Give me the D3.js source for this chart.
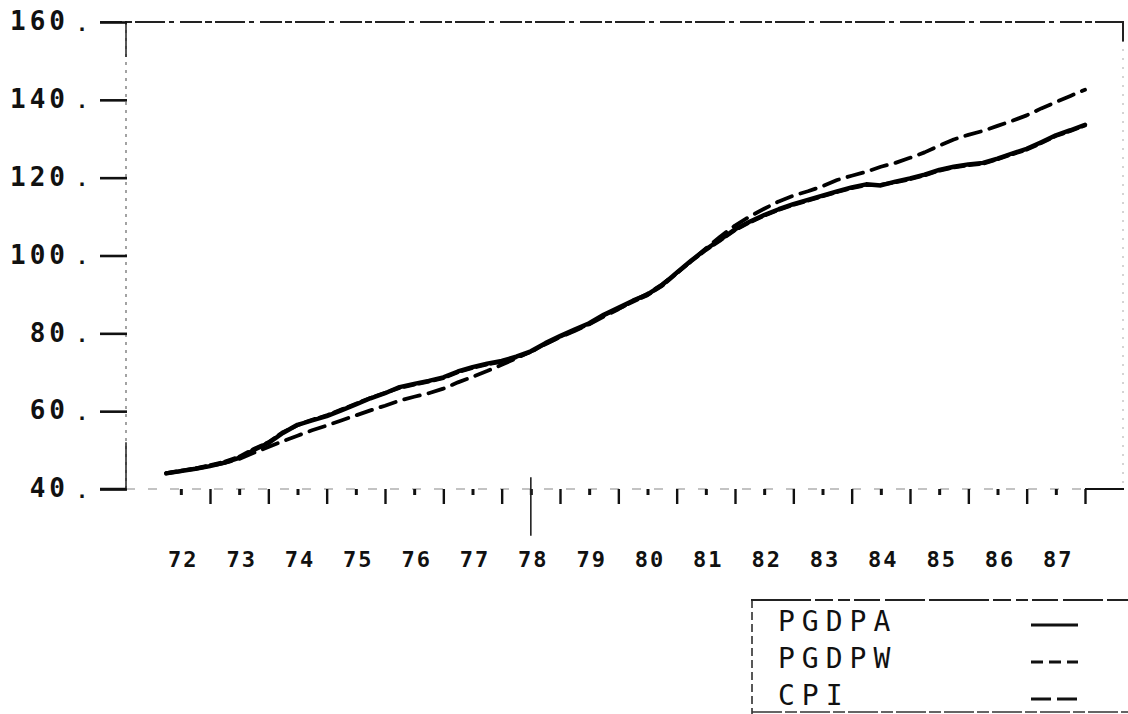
<!DOCTYPE html>
<html>
<head>
<meta charset="utf-8">
<script src="https://cdn.jsdelivr.net/npm/d3@7"></script>
<style>
  body { margin: 0; background: #fff; }
  svg { display: block; }
  .tk text { font-family: "DejaVu Sans Mono", monospace; fill: #111; }
</style>
</head>
<body>
<svg id="chart" width="1128" height="714"></svg>
<script>
// quarterly series, 1972Q1 .. 1987Q4
const firstYear = 1972;
const pgdpa = [44.0,44.6,45.2,45.9, 46.8,48.0,50.0,51.8, 54.4,56.5,57.6,58.7, 60.2,61.7,63.3,64.6,
  66.2,67.0,67.8,68.7, 70.2,71.3,72.2,72.9, 74.0,75.4,77.5,79.3, 81.0,82.6,84.8,86.6,
  88.4,90.0,92.4,95.6, 98.7,101.6,104.1,106.7, 108.7,110.4,111.9,113.2, 114.3,115.4,116.5,117.5,
  118.3,118.0,119.0,119.8, 120.8,122.0,122.8,123.4, 123.8,124.9,126.2,127.4, 129.1,130.9,132.2,133.6];
const pgdpw = [44.1,44.7,45.3,46.1, 47.0,48.3,50.3,52.0, 54.6,56.4,57.8,58.9, 60.4,61.9,63.4,64.7,
  66.0,66.8,67.6,68.5, 70.0,71.1,72.0,72.7, 73.8,75.2,77.3,79.1, 80.8,82.4,84.6,86.3,
  88.1,89.8,92.2,95.4, 98.5,101.4,103.9,106.5, 108.5,110.2,111.7,113.0, 114.1,115.2,116.3,117.3,
  118.1,118.2,118.8,119.6, 120.6,121.8,122.6,123.2, 123.6,124.7,126.0,127.2, 128.9,130.7,132.0,133.4];
const cpi = [44.0,44.6,45.2,45.9, 46.7,47.7,49.3,50.8, 52.3,53.7,55.1,56.3, 57.6,58.9,60.2,61.4,
  62.7,63.7,64.6,65.8, 67.4,68.8,70.3,71.9, 73.6,75.3,77.2,79.0, 80.6,82.3,84.3,86.2,
  88.3,90.2,92.6,95.5, 98.6,101.8,104.9,107.7, 110.0,112.0,113.9,115.4, 116.5,117.8,119.4,120.5,
  121.5,122.8,123.8,125.1, 126.5,128.2,129.8,131.0, 132.0,133.3,134.6,136.0, 137.8,139.4,141.0,142.6];

const yearLabels = ['72','73','74','75','76','77','78','79','80','81','82','83','84','85','86','87'];
const yTicks = [40, 60, 80, 100, 120, 140, 160];
const seriesNames = ['PGDPA', 'PGDPW', 'CPI'];

createChart(d3.select('svg#chart'));

function createChart(svg) {
  let x = d3.scaleLinear().domain([1973, 1988]).range([210, 1085]);
  let y = d3.scaleLinear().domain([40, 160]).range([489, 22]);

  let series = [
    {name: seriesNames[0], values: pgdpa, dash: null, key: null},
    {name: seriesNames[1], values: pgdpw, dash: '10,5', key: '12,6'},
    {name: seriesNames[2], values: cpi, dash: '16,9', key: '20,6'}
  ];

  // frame: top line, left axis, faint right border
  svg.append('line')
    .attr('x1', 100).attr('x2', 1124).attr('y1', y(160)).attr('y2', y(160))
    .style('stroke', '#222').style('stroke-width', 2)
    .style('stroke-dasharray', '22,3,7,3,30,4,5,6');
  svg.append('line')
    .attr('x1', 126).attr('x2', 126).attr('y1', y(160)).attr('y2', y(40))
    .style('stroke', '#666').style('stroke-width', 1.2)
    .style('stroke-dasharray', '3,5');
  svg.append('line')
    .attr('x1', 126).attr('x2', 126).attr('y1', y(160)).attr('y2', y(151))
    .style('stroke', '#222').style('stroke-width', 1.5);
  svg.append('line')
    .attr('x1', 126).attr('x2', 126).attr('y1', y(52)).attr('y2', y(40))
    .style('stroke', '#222').style('stroke-width', 1.5);
  svg.append('line')
    .attr('x1', 1123).attr('x2', 1123).attr('y1', y(160)).attr('y2', y(40))
    .style('stroke', '#aaa').style('stroke-width', 1)
    .style('stroke-dasharray', '2,7');
  svg.append('line')
    .attr('x1', 1123).attr('x2', 1123).attr('y1', y(160)).attr('y2', y(155))
    .style('stroke', '#222').style('stroke-width', 2);

  // bottom axis base line
  svg.append('line')
    .attr('x1', 100).attr('x2', 126).attr('y1', y(40)).attr('y2', y(40))
    .style('stroke', '#111').style('stroke-width', 2.5);
  svg.append('line')
    .attr('x1', 126).attr('x2', x(1988)).attr('y1', y(40)).attr('y2', y(40))
    .style('stroke', '#888').style('stroke-width', 1.2)
    .style('stroke-dasharray', '9,13');
  svg.append('line')
    .attr('x1', x(1988)).attr('x2', 1124).attr('y1', y(40)).attr('y2', y(40))
    .style('stroke', '#111').style('stroke-width', 2);

  // y axis
  let yAxis = d3.axisLeft(y)
    .tickValues(yTicks)
    .tickSize(27)
    .tickPadding(31)
    .tickFormat(d => d);
  let gy = svg.append('g')
    .attr('class', 'tk')
    .attr('transform', 'translate(127,0)')
    .call(yAxis);
  gy.select('.domain').remove();
  gy.selectAll('.tick line').style('stroke', '#111').style('stroke-width', 2.6);
  gy.selectAll('.tick text')
    .attr('dy', '0.3em')
    .style('font-size', '26px')
    .style('font-weight', 'bold')
    .style('letter-spacing', '4px');
  gy.selectAll('.tick').append('text')
    .attr('x', -45).attr('dy', 8)
    .style('font-size', '20px')
    .style('font-weight', 'bold')
    .style('text-anchor', 'middle')
    .text('.');

  // x axis: year boundaries and mid-year ticks
  let years = d3.range(1973, 1989);
  let mids = yearLabels.map((d, i) => firstYear + i + 0.5);

  let gMajor = svg.append('g')
    .attr('class', 'tk')
    .attr('transform', `translate(0, ${y(40)})`)
    .call(d3.axisBottom(x).tickValues(years).tickSize(15).tickFormat(''));
  gMajor.select('.domain').remove();
  gMajor.selectAll('.tick line').style('stroke', '#111').style('stroke-width', 2.4);

  let gMinor = svg.append('g')
    .attr('class', 'tk')
    .attr('transform', `translate(0, ${y(40)})`)
    .call(d3.axisBottom(x).tickValues(mids).tickSize(6).tickFormat(''));
  gMinor.select('.domain').remove();
  gMinor.selectAll('.tick line').style('stroke', '#111').style('stroke-width', 3);

  let gLab = svg.append('g')
    .attr('class', 'tk')
    .attr('transform', `translate(0, ${y(40)})`)
    .call(d3.axisBottom(x).tickValues(mids).tickSize(0).tickPadding(62)
      .tickFormat((d, i) => yearLabels[i]));
  gLab.select('.domain').remove();
  gLab.selectAll('.tick text')
    .attr('dx', 2)
    .style('font-size', '22px')
    .style('font-weight', 'bold')
    .style('letter-spacing', '2px');

  // long marker stroke below 78
  svg.append('line')
    .attr('x1', x(1978.5)).attr('x2', x(1978.5))
    .attr('y1', y(43)).attr('y2', y(28))
    .style('stroke', '#222').style('stroke-width', 1.6);

  // series lines
  let line = d3.line()
    .x((d, i) => x(firstYear + (i + 1) / 4))
    .y(d => y(d));

  svg.selectAll('path.series')
    .data(series)
    .enter()
    .append('path')
    .attr('class', 'series')
    .attr('d', d => line(d.values))
    .style('fill', 'none')
    .style('stroke', '#000')
    .style('stroke-width', d => d.dash ? 3.8 : 4.4)
    .style('stroke-linejoin', 'round')
    .style('stroke-linecap', 'round')
    .style('stroke-dasharray', d => d.dash);

  // legend box
  let lg = svg.append('g').attr('class', 'legend');
  lg.append('line')
    .attr('x1', 751).attr('x2', 1128).attr('y1', 600).attr('y2', 600)
    .style('stroke', '#222').style('stroke-width', 2)
    .style('stroke-dasharray', '60,4,18,5,12,4,26,5,40,4');
  lg.append('line')
    .attr('x1', 752).attr('x2', 752).attr('y1', 600).attr('y2', 714)
    .style('stroke', '#222').style('stroke-width', 1.5)
    .style('stroke-dasharray', '8,4');
  lg.append('line')
    .attr('x1', 752).attr('x2', 1128).attr('y1', 712).attr('y2', 712)
    .style('stroke', '#333').style('stroke-width', 1.6)
    .style('stroke-dasharray', '30,3,12,3');

  let rowY = [631, 668, 705];
  let rows = lg.selectAll('g.row')
    .data(series)
    .enter()
    .append('g')
    .attr('class', 'row')
    .attr('transform', (d, i) => `translate(0, ${rowY[i]})`);

  rows.append('text')
    .attr('x', 778)
    .style('font-family', '"DejaVu Sans Mono", monospace')
    .style('font-size', '28px')
    .style('letter-spacing', '7px')
    .style('fill', '#111')
    .text(d => d.name);

  rows.append('line')
    .attr('x1', 1031).attr('x2', 1078)
    .attr('y1', -6).attr('y2', -6)
    .style('stroke', '#111')
    .style('stroke-width', 2.8)
    .style('stroke-dasharray', d => d.key);
}
</script>
</body>
</html>
